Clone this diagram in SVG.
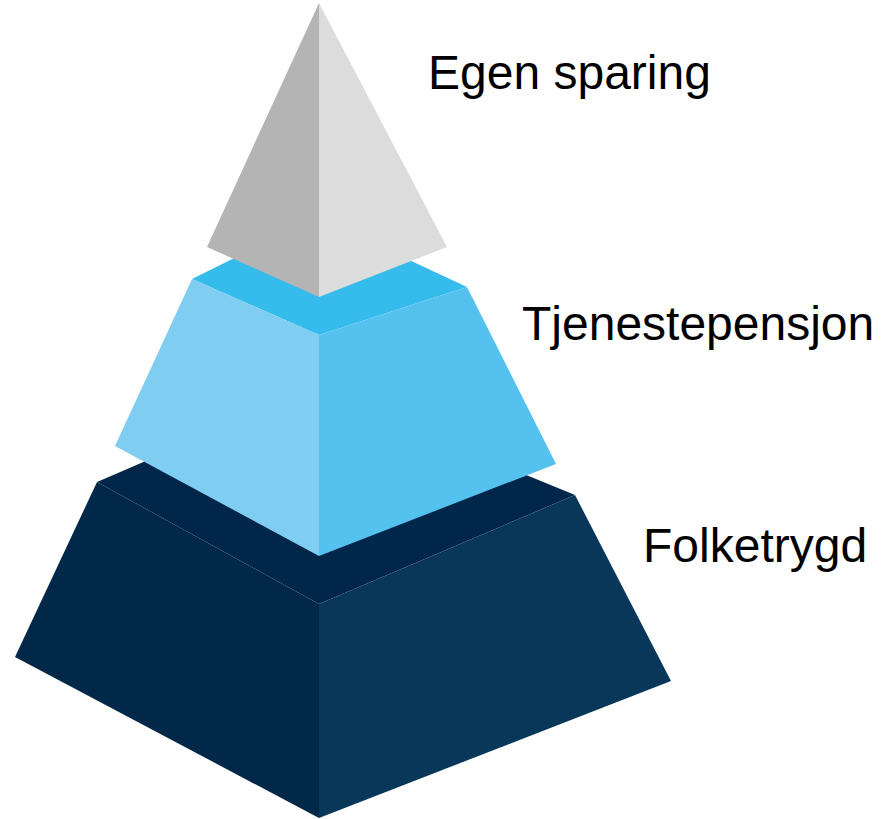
<svg xmlns="http://www.w3.org/2000/svg" width="889" height="819" viewBox="0 0 889 819">
<style>
.lbl{font-family:"Liberation Sans",Arial,sans-serif;font-size:48px;fill:#000}
</style>
<rect width="889" height="819" fill="#fff"/>
<g id="tier-folketrygd">
<polygon points="97,482 315,388 575,495 319,604" fill="#002749"/>
<polygon points="97,482 319,604 319,818 15,657" fill="#012849"/>
<polygon points="319,604 575,495 671,681 319,818" fill="#08375A"/>
</g>
<g id="tier-tjenestepensjon">
<polygon points="192,279 317,217 467,287 319,335" fill="#35BBEC"/>
<polygon points="192,279 319,335 319,556 115,446" fill="#80CDF2"/>
<polygon points="319,335 467,287 556,464 319,556" fill="#55C1EE"/>
</g>
<g id="tier-egen-sparing">
<polygon points="319,3 319,297 207,247" fill="#B4B4B4"/>
<polygon points="319,3 447,247 319,297" fill="#DCDCDC"/>
</g>
<g id="labels">
<text class="lbl" x="428" y="89">Egen sparing</text>
<text class="lbl" x="522" y="340">Tjenestepensjon</text>
<text class="lbl" x="643" y="562">Folketrygd</text>
</g>
</svg>
